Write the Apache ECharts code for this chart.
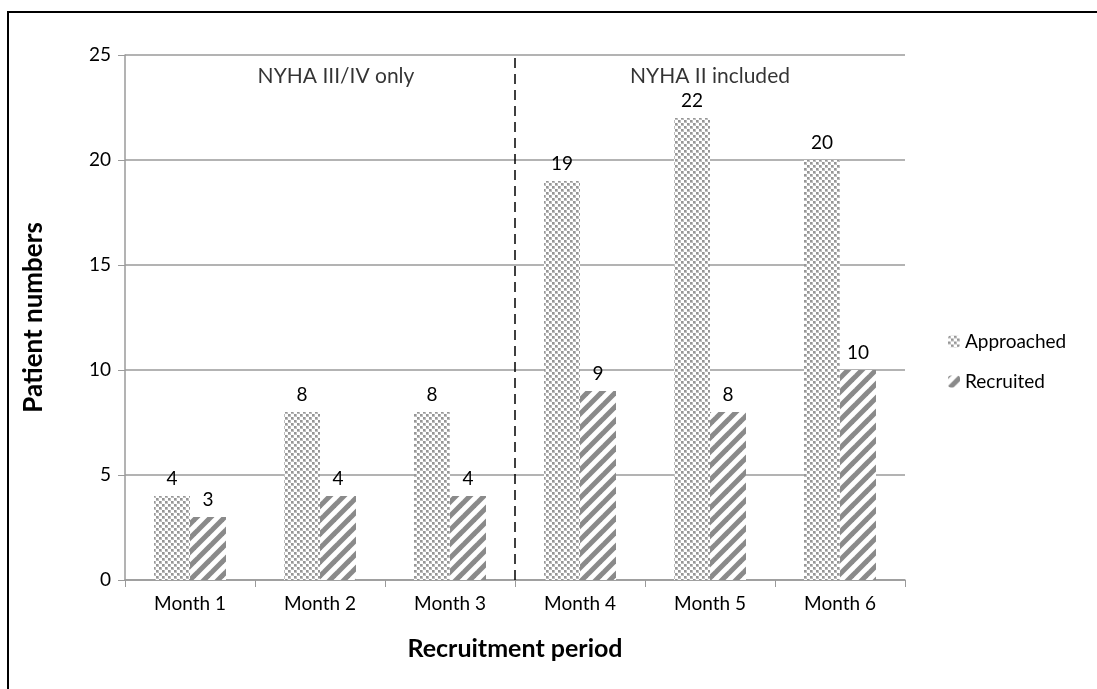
<!DOCTYPE html>
<html><head><meta charset="utf-8">
<script src="https://cdn.jsdelivr.net/npm/echarts@6/dist/echarts.min.js"></script>
<style>html,body{margin:0;padding:0;background:#fff}#c{width:1097px;height:689px}</style>
</head><body><div id="c"></div>
<script>
const categories = ['Month 1','Month 2','Month 3','Month 4','Month 5','Month 6'];
const approached = [4, 8, 8, 19, 22, 20];
const recruited = [3, 4, 4, 9, 8, 10];
const yTicks = [0, 5, 10, 15, 20, 25];
const phaseLabels = ['NYHA III/IV only', 'NYHA II included'];
const phaseBoundary = 3;

function crossPattern(){
  const c = document.createElement('canvas'); c.width = 6; c.height = 6;
  const g = c.getContext('2d');
  g.fillStyle = '#ffffff'; g.fillRect(0,0,6,6);
  g.fillStyle = '#969696';
  g.fillRect(0,0,2,2); g.fillRect(3,3,2,2);
  g.fillStyle = '#bdbdbd';
  g.fillRect(2,0,1,2); g.fillRect(0,2,2,1); g.fillRect(5,3,1,2); g.fillRect(3,5,2,1);
  g.fillRect(2,2,1,1); g.fillRect(5,5,1,1);
  return c;
}
function stripePattern(){
  const s = 14;
  const c = document.createElement('canvas'); c.width = s; c.height = s;
  const g = c.getContext('2d');
  g.fillStyle = '#ffffff'; g.fillRect(0,0,s,s);
  g.strokeStyle = '#8a8a8a'; g.lineWidth = 5;
  for (let k = -1; k <= 1; k++) {
    g.beginPath(); g.moveTo(k*s - 2, s + 2); g.lineTo(k*s + s + 2, -2); g.stroke();
  }
  return c;
}
const FONT = 'Lato';
const FS = 19;
const chart = echarts.init(document.getElementById('c'));
chart.setOption({
  backgroundColor: '#fff',
  animation: false,
  textStyle: {fontFamily: FONT},
  graphic: [{type:'rect', shape:{x:8, y:12, width:1100, height:700}, style:{fill:'none', stroke:'#000', lineWidth:2}, silent:true, z:-1}],
  grid: {left:125, right:192, top:55, bottom:109},
  legend: {
    orient:'vertical', left:943, top:327, itemWidth:12, itemHeight:12, itemGap:21,
    textStyle:{fontFamily:FONT, fontSize:FS, color:'#000'},
    data:['Approached','Recruited']
  },
  xAxis: [{
    type:'category', data:categories,
    name:'Recruitment period', nameLocation:'middle', nameGap:56,
    nameTextStyle:{fontFamily:FONT, fontSize:25, fontWeight:'bold', color:'#000'},
    axisLine:{lineStyle:{color:'#9a9a9a', width:1.5}},
    axisTick:{show:true, length:7, lineStyle:{color:'#9a9a9a'}},
    axisLabel:{fontFamily:FONT, fontSize:FS, color:'#000', margin:14}
  },{
    type:'value', min:0, max:6, show:false
  }],
  yAxis: {
    type:'value', min:0, max:25, interval:5,
    name:'Patient numbers', nameLocation:'middle', nameGap:78, nameRotate:90,
    nameTextStyle:{fontFamily:FONT, fontSize:26, fontWeight:'bold', color:'#000'},
    axisLine:{show:true, lineStyle:{color:'#9a9a9a', width:1.5}},
    axisTick:{show:true, length:7, lineStyle:{color:'#9a9a9a'}},
    splitLine:{lineStyle:{color:'#9a9a9a', width:1.5}},
    axisLabel:{fontFamily:FONT, fontSize:FS, color:'#000', margin:14,
      formatter: v => yTicks.includes(v) ? String(v) : ''}
  },
  series: [{
    name:'Approached', type:'bar', data:approached, barWidth:36, barGap:'0%',
    itemStyle:{color:{image:crossPattern(), repeat:'repeat'}},
    label:{show:true, position:'top', distance:8, fontFamily:FONT, fontSize:FS, color:'#000'}
  },{
    name:'Recruited', type:'bar', data:recruited, barWidth:36,
    itemStyle:{color:{image:stripePattern(), repeat:'repeat'}},
    label:{show:true, position:'top', distance:8, fontFamily:FONT, fontSize:FS, color:'#000'}
  },{
    name:'phase', type:'line', xAxisIndex:1, data:[], silent:true,
    markLine:{symbol:'none', silent:true, label:{show:false},
      lineStyle:{color:'#000', type:[10,6], width:1.5},
      data:[{xAxis:phaseBoundary}]}
  },{
    name:'phaseText', type:'scatter', xAxisIndex:1, symbolSize:0, silent:true,
    data:[
      {value:[phaseBoundary/2, 24], label:{offset:[16,0]}},
      {value:[phaseBoundary + (6-phaseBoundary)/2, 24]}
    ],
    label:{show:true, position:'inside', fontFamily:FONT, fontSize:21, color:'#000',
      formatter: p => phaseLabels[p.dataIndex]}
  }]
});
</script></body></html>
